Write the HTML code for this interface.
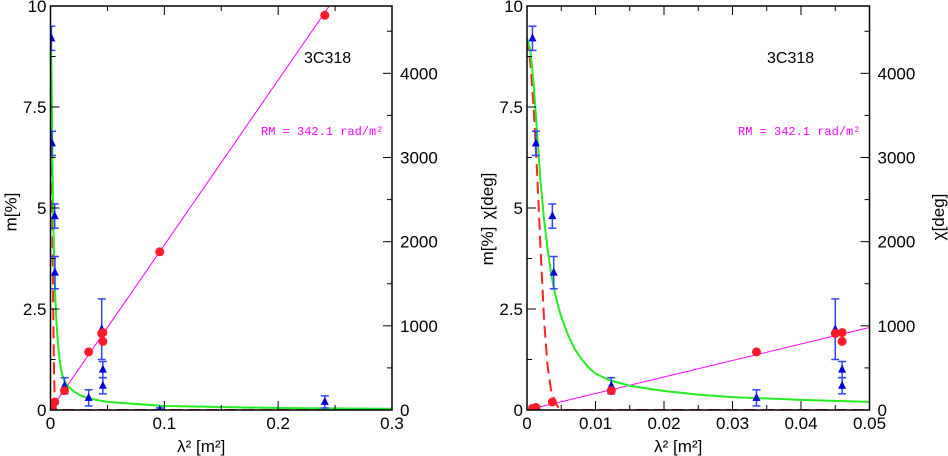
<!DOCTYPE html>
<html><head><meta charset="utf-8"><style>
html,body{margin:0;padding:0;background:#fff;width:948px;height:456px;overflow:hidden}
svg text{font-family:"Liberation Sans",sans-serif;font-size:17px;fill:#000}
</style></head><body>
<svg id="chart" width="948" height="456" xmlns="http://www.w3.org/2000/svg"></svg>
<script>
// data
const triX = [0.0008, 0.0013, 0.0037, 0.0039, 0.0123, 0.0335, 0.045, 0.046, 0.046, 0.096, 0.241];
const triM = [9.2, 6.6, 4.8, 3.4, 0.6, 0.3, 2.0, 1.0, 0.6, 0.0, 0.2];
const triErr = [0.3, 0.3, 0.3, 0.4, 0.2, 0.2, 0.75, 0.2, 0.2, 0.05, 0.15];
const circX = [0.0008, 0.0013, 0.0037, 0.0123, 0.0335, 0.045, 0.046, 0.046, 0.096, 0.241];
const circChi = [20, 30, 95, 230, 690, 910, 920, 815, 1880, 4690];
const greenX = [0, 0.0005, 0.001, 0.0015, 0.002, 0.0025, 0.003, 0.0035, 0.004, 0.0045, 0.005, 0.006, 0.007, 0.008, 0.009, 0.01, 0.012, 0.015, 0.02, 0.025, 0.03, 0.04, 0.05, 0.1, 0.2, 0.3];
const greenM = [9.2, 8.9, 8.0, 6.8, 5.6, 4.7, 4.0, 3.4, 2.95, 2.6, 2.3, 1.85, 1.5, 1.25, 1.05, 0.9, 0.74, 0.6, 0.47, 0.38, 0.32, 0.25, 0.2, 0.1, 0.05, 0.03];
const redX = [0, 0.0005, 0.001, 0.0015, 0.002, 0.0025, 0.003, 0.0035, 0.004, 0.0045, 0.005, 0.3];
const redM = [9.2, 8.6, 7.4, 5.8, 3.9, 2.2, 1.1, 0.5, 0.25, 0.08, 0, 0];
const RM = 342.1;
const leftTicks = ["0", "2.5", "5", "7.5", "10"];
const rightTicks = ["0", "1000", "2000", "3000", "4000"];

const NS = "http://www.w3.org/2000/svg";
const svg = document.getElementById("chart");
function el(tag, attrs, parent) {
  const e = document.createElementNS(NS, tag);
  for (const k in attrs) e.setAttribute(k, attrs[k]);
  (parent || svg).appendChild(e);
  return e;
}
function panel(p) {
  const g = el("g", {});
  
  
  const xs = v => p.x0 + (v / p.xmax) * (p.x1 - p.x0);
  const ym = v => p.yb - (v / 10) * (p.yb - p.yt);
  const yc = v => p.yb - (v / 4800) * (p.yb - p.yt);
  const clip = el("clipPath", { id: "clip" + p.id }, g);
  el("rect", { x: p.x0, y: p.yt, width: p.x1 - p.x0, height: p.yb - p.yt }, clip);
  const plot = el("g", { "clip-path": "url(#clip" + p.id + ")" }, g);
  const fr = el("rect", { x: p.x0, y: p.yt, width: p.x1 - p.x0, height: p.yb - p.yt, fill: "none", stroke: "#000", "stroke-width": 1.5 }, g);
  
  
  for (let i = 0; i <= p.nMinor; i++) {
    const v = i * p.xmax / p.nMinor, X = xs(v), major = i % 2 === 0;
    const L = major ? 9 : 5;
    el("line", { x1: X, x2: X, y1: p.yb, y2: p.yb - L, stroke: "#000" }, g);
    el("line", { x1: X, x2: X, y1: p.yt, y2: p.yt + L, stroke: "#000" }, g);
  }
  p.xLabels.forEach((s, i) => {
    const t = el("text", { x: xs(p.xLabelVals[i]), y: 429, "text-anchor": "middle" }, g);
    t.textContent = s;
    
    
  });
  for (let v = 0; v <= 10; v += 1.25) {
    const major = Math.abs(v % 2.5) < 1e-6;
    el("line", { x1: p.x0, x2: p.x0 + (major ? 9 : 5), y1: ym(v), y2: ym(v), stroke: "#000" }, g);
  }
  leftTicks.forEach((s, i) => {
    const t = el("text", { x: p.x0 - 4, y: ym(i * 2.5) + 6, "text-anchor": "end" }, g);
    t.textContent = s;
    
    
  });
  for (let v = 0; v <= 4500; v += 500) {
    const major = v % 1000 === 0;
    el("line", { x1: p.x1, x2: p.x1 - (major ? 9 : 5), y1: yc(v), y2: yc(v), stroke: "#000" }, g);
  }
  rightTicks.forEach((s, i) => {
    const t = el("text", { x: p.x1 + 8, y: yc(i * 1000) + 6, "text-anchor": "start" }, g);
    t.textContent = s;
    
    
  });
  const rml = el("line", { x1: xs(0), y1: yc(0), x2: xs(p.xmax), y2: yc(RM * p.xmax * 180 / Math.PI), stroke: "#ff00ff", "stroke-width": 1 }, plot);
  
  
  const rd = el("polyline", { points: redX.map((x, i) => xs(x) + "," + ym(redM[i])).join(" "), fill: "none", stroke: "#ff2020", "stroke-width": 2, "stroke-dasharray": "12,6" }, plot);
  
  
  const gr = el("polyline", { points: greenX.map((x, i) => xs(x) + "," + ym(greenM[i])).join(" "), fill: "none", stroke: "#22ee22", "stroke-width": 2, "stroke-linejoin": "round" }, plot);
  
  
  triX.forEach((x, i) => {
    if (x > p.xmax) return;
    const X = xs(x), Y = ym(triM[i]), y1 = ym(triM[i] + triErr[i]), y2 = ym(Math.max(0, triM[i] - triErr[i]));
    const tg = el("g", { stroke: "#3344ff", "stroke-width": 1.5 }, plot);
    
    
    el("line", { x1: X, x2: X, y1: y1, y2: y2 }, tg);
    el("line", { x1: X - 4, x2: X + 4, y1: y1, y2: y1 }, tg);
    el("line", { x1: X - 4, x2: X + 4, y1: y2, y2: y2 }, tg);
    el("polygon", { points: `${X},${Y - 5} ${X - 4},${Y + 3} ${X + 4},${Y + 3}`, fill: "#0000dd", stroke: "none" }, tg);
  });
  circX.forEach((x, i) => {
    if (x > p.xmax) return;
    const c = el("circle", { cx: xs(x), cy: yc(circChi[i]), r: 4.5, fill: "#ff1a2a" }, plot);
    
    
  });
  const src = el("text", { x: p.srcX, y: 63, style: "font-size:16px" }, g);
  src.textContent = "3C318";
  
  
  const rm = el("text", { x: p.rmX, y: 135, style: "fill:#ff00ff;font-family:'Liberation Mono',monospace;font-size:12px" }, g);
  rm.textContent = "RM = 342.1 rad/m²";
  
  
  const xl = el("text", { x: (p.x0 + p.x1) / 2 - 20, y: 452, "text-anchor": "middle" }, g);
  xl.textContent = "λ² [m²]";
  
  
  const yl = el("text", { x: 0, y: 0, "text-anchor": "middle", transform: `translate(${p.x0 - 34},${p.mLabelY}) rotate(-90)` }, g);
  yl.textContent = "m[%]";
  
  
  return g;
}
panel({ id: 1, name: "left-panel", x0: 50.5, x1: 392, yt: 6, yb: 410, xmax: 0.3, nMinor: 6,
  xLabels: ["0", "0.1", "0.2", "0.3"], xLabelVals: [0, 0.1, 0.2, 0.3], srcX: 304, rmX: 261, mLabelY: 212 });
panel({ id: 2, name: "right-panel", x0: 527, x1: 869.5, yt: 6, yb: 410, xmax: 0.05, nMinor: 10,
  xLabels: ["0", "0.01", "0.02", "0.03", "0.04", "0.05"], xLabelVals: [0, 0.01, 0.02, 0.03, 0.04, 0.05], srcX: 767, rmX: 738, mLabelY: 246 });
const c1 = el("text", { x: 0, y: 0, "text-anchor": "middle", transform: "translate(493,196) rotate(-90)" });
c1.textContent = "χ[deg]";


const c2 = el("text", { x: 0, y: 0, "text-anchor": "middle", transform: "translate(944,217) rotate(-90)" });
c2.textContent = "χ[deg]";


</script>
</body></html>
